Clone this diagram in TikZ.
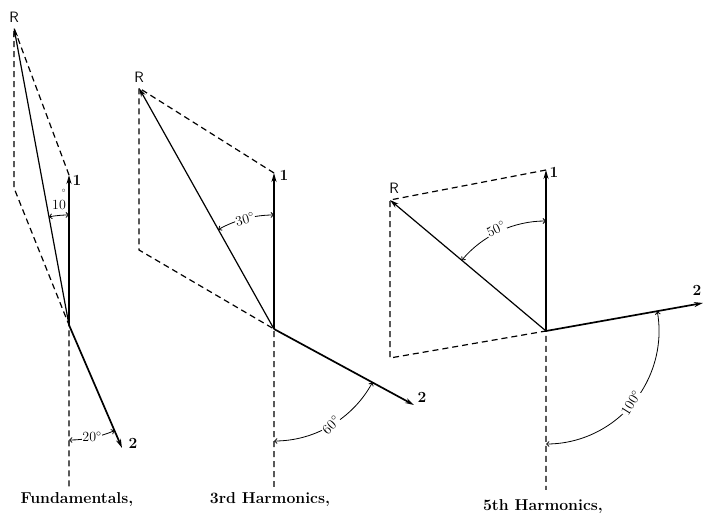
\documentclass[tikz,border=0pt]{standalone}
\usetikzlibrary{arrows.meta}
\begin{document}
\begin{tikzpicture}[x=1pt,y=1pt,
  vec/.style={line width=1.7pt,-{Stealth[length=9pt,width=5pt]}},
  res/.style={line width=1.2pt,-{Stealth[length=9pt,width=5pt]}},
  dline/.style={line width=1.2pt,dash pattern=on 6pt off 4pt},
  anglearc/.style={line width=0.8pt,{Straight Barb[length=2.5pt,width=5pt]}-{Straight Barb[length=2.5pt,width=5pt]}},
  anglab/.style={fill=white,inner sep=0.5pt,font=\fontsize{14}{14}\selectfont},
  vlab/.style={font=\fontsize{15.5}{16}\selectfont\bfseries,inner sep=0pt},
  rlab/.style={font=\fontsize{15}{15}\selectfont\sffamily,inner sep=0pt},
  captxt/.style={font=\fontsize{15.8}{17}\selectfont\bfseries,inner sep=0pt}]
\useasboundingbox (0,0) rectangle (704,514);
% ---------- Fundamentals ----------
\coordinate (O1) at (69,189);
\coordinate (A1) at (69,339);
\coordinate (B1) at (122,66);
\coordinate (R1) at (14,486);
\coordinate (C1) at (14,326);
\coordinate (D1) at (69,24);
\draw[dline] (A1) -- (R1) -- (C1) -- (O1) -- (D1);
\draw[vec] (O1) -- (A1);
\draw[vec] (O1) -- (B1);
\draw[res] (O1) -- (R1);
\draw[anglearc] ([shift={(90:110)}]O1) arc[start angle=90,end angle=100.5,radius=110];
\node[anglab,fill=none] (a10) at (59,309) {10};
\node[anglab,fill=none,font=\fontsize{10}{10}\selectfont] (a10d) at (64,321) {$^\circ$};
\draw[anglearc] ([shift={(-90:115)}]O1) arc[start angle=-90,end angle=-66.7,radius=115];
\node[anglab] (a20) at (92,77) {20$^\circ$};
\node[rlab] (lR1) at (14,497) {R};
\node[vlab] (l11) at (77,334) {1};
\node[vlab] (l21) at (133,71) {2};
\node[captxt] (cap1) at (77,14) {Fundamentals,};
% ---------- 3rd Harmonics ----------
\coordinate (O2) at (274,185);
\coordinate (A2) at (274,341);
\coordinate (B2) at (414,109);
\coordinate (R2) at (139,426);
\coordinate (C2) at (139,264);
\coordinate (D2) at (274,27);
\draw[dline] (A2) -- (R2) -- (C2) -- (O2) -- (D2);
\draw[vec] (O2) -- (A2);
\draw[vec] (O2) -- (B2);
\draw[res] (O2) -- (R2);
\draw[anglearc] ([shift={(90:114)}]O2) arc[start angle=90,end angle=119.25,radius=114];
\node[anglab,rotate=15] (a30) at (245,295) {30$^\circ$};
\draw[anglearc] ([shift={(-90:112)}]O2) arc[start angle=-90,end angle=-28.5,radius=112];
\node[anglab,rotate=45] (a60) at (331,89) {60$^\circ$};
\node[rlab] (lR2) at (139,437) {R};
\node[vlab] (l12) at (284,339) {1};
\node[vlab] (l22) at (422,117) {2};
\node[captxt] (cap2) at (270,14) {3rd Harmonics,};
% ---------- 5th Harmonics ----------
\coordinate (O3) at (546,183);
\coordinate (A3) at (546,344);
\coordinate (B3) at (703,211);
\coordinate (R3) at (390,314);
\coordinate (C3) at (390,156);
\coordinate (D3) at (546,24);
\draw[dline] (A3) -- (R3) -- (C3) -- (O3) -- (D3);
\draw[vec] (O3) -- (A3);
\draw[vec] (O3) -- (B3);
\draw[res] (O3) -- (R3);
\draw[anglearc] ([shift={(90:110)}]O3) arc[start angle=90,end angle=140,radius=110];
\node[anglab,rotate=25] (a50) at (496,285) {50$^\circ$};
\draw[anglearc] ([shift={(-90:113)}]O3) arc[start angle=-90,end angle=10,radius=113];
\node[anglab,rotate=58] (a100) at (631,111) {100$^\circ$};
\node[rlab] (lR3) at (394,326) {R};
\node[vlab] (l13) at (554,342) {1};
\node[vlab] (l23) at (697,224) {2};
\node[captxt] (cap3) at (543,7) {5th Harmonics,};
\end{tikzpicture}
\end{document}
